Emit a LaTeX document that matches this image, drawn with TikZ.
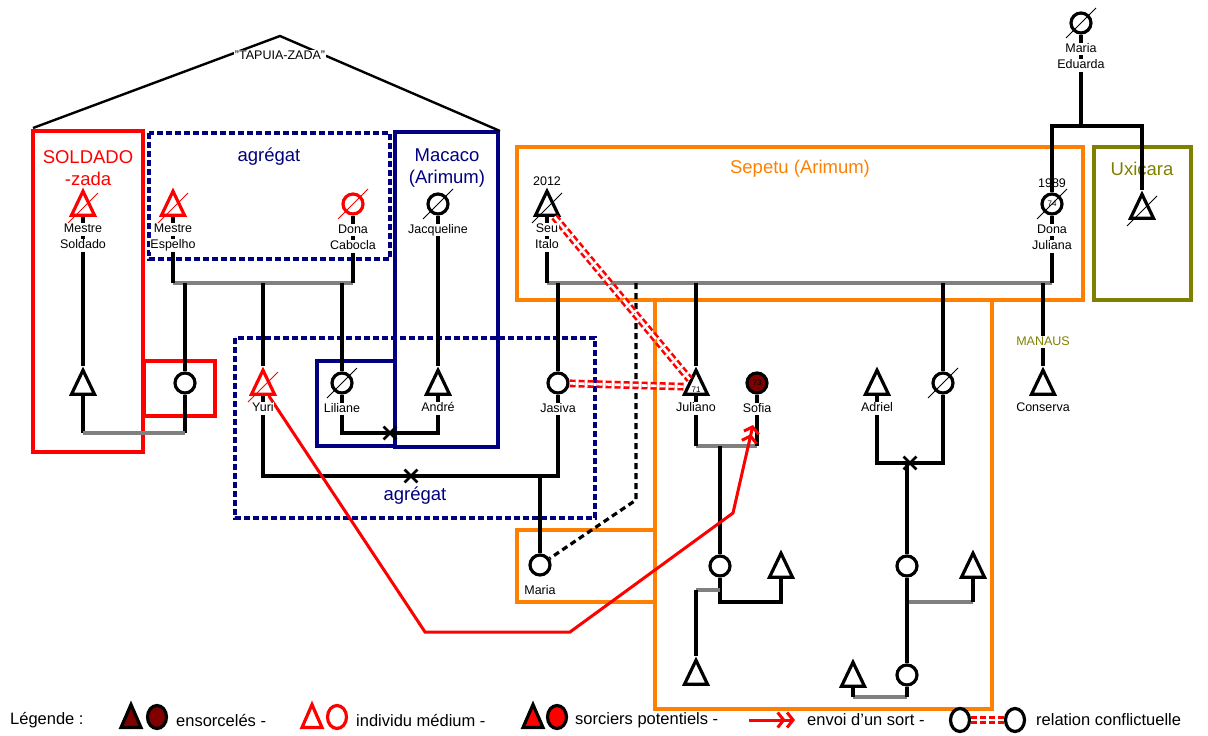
\documentclass[tikz,border=0pt]{standalone}
\usepackage{fontspec}
\setmainfont{Liberation Sans}
\usetikzlibrary{arrows.meta,positioning,shapes.geometric,shapes.misc}
\definecolor{SortRed}{HTML}{FF0000}
\definecolor{AgNavy}{HTML}{000080}
\definecolor{SepOrange}{HTML}{FF8000}
\definecolor{UxOlive}{HTML}{808000}
\definecolor{LinkGray}{HTML}{808080}
\definecolor{Ensorc}{HTML}{800000}
\tikzset{
  male/.style={isosceles triangle, isosceles triangle stretches, shape border rotate=90,
               minimum width=23pt, minimum height=24pt, inner sep=0pt, draw,
               line width=3.2pt, fill=white, yshift=-4pt},
  female/.style={circle, minimum size=20pt, inner sep=0pt, draw, line width=3.2pt, fill=white},
  legcirc/.style={ellipse, minimum width=19pt, minimum height=23pt, inner sep=0pt, draw,
                  line width=3.2pt, fill=white},
  medium/.style={draw=SortRed},
  slash/.style={line width=1pt},
  kin/.style={line width=3.2pt},
  union/.style={kin, draw=LinkGray},
  clan/.style={line width=4.5pt},
  sub/.style={line width=3.5pt},
  agreg/.style={line width=3.4pt, draw=AgNavy, dash pattern=on 6pt off 3pt},
  conflict/.style={draw=SortRed, line width=2.6pt, double=white, double distance=2.6pt,
                   dash pattern=on 6pt off 3pt},
  sort/.style={draw=SortRed, line width=3pt,
               -{Straight Barb[length=6pt,width=15pt]Straight Barb[length=6pt,width=15pt]}},
  cross/.style={cross out, draw, line width=2.8pt, minimum size=10pt, inner sep=0pt},
  lbl/.style={fill=white, inner sep=0.5pt, text height=9pt, text depth=2.5pt,
              font=\fontsize{12.5}{14}\selectfont},
  num/.style={inner sep=0pt, font=\fontsize{8}{9}\selectfont},
  title/.style={align=center, font=\fontsize{18.5}{22}\selectfont},
  legtxt/.style={anchor=west, inner sep=0pt, font=\fontsize{16.5}{18}\selectfont}
}

\begin{document}
\begin{tikzpicture}[x=1pt, y=-1pt]
  \useasboundingbox (0,0) rectangle (1208,736);

  % groups
  \draw[clan, draw=SortRed] (33,131) rectangle (143,452);
  \draw[agreg] (149,133) rectangle (390,259);
  \draw[clan, draw=AgNavy] (395,132) rectangle (498,447);
  \draw[sub, draw=SortRed] (144,361) rectangle (215,416);
  \draw[sub, draw=AgNavy] (317,361) rectangle (395,446);
  \draw[agreg] (235,338) rectangle (595,518);
  \draw[clan, draw=SepOrange] (517,147) rectangle (1083,300);
  \draw[sub, draw=SepOrange] (655,300) -- (655,709) -- (992,709) -- (992,300);
  \draw[sub, draw=SepOrange] (517,530) rectangle (655,602);
  \draw[clan, draw=UxOlive] (1094,147) rectangle (1191,300);

  \draw[line width=2.4pt] (33,128) -- (280,36) -- (500,131);
  \node[fill=white, inner sep=1pt, font=\fontsize{12.5}{14}\selectfont] (tapuia) at (280,55) {"TAPUIA-ZADA"};

  \node[title, text=SortRed] at (88,168) {SOLDADO\\-zada};
  \node[title, text=AgNavy] at (269,157) {agrégat};
  \node[title, text=AgNavy] at (447,168) {Macaco\\(Arimum)};
  \node[title, text=AgNavy] at (415,496) {agrégat};
  \node[title, text=SepOrange] at (800,169) {Sepetu (Arimum)};
  \node[title, text=UxOlive] at (1142,169) {Uxicara};

  % people
  \node[male, medium] (ms) at (83,204) {};
  \node[male, medium] (mse) at (173,204) {};
  \node[female, medium] (dc) at (353,204) {};
  \node[female] (jac) at (438,204) {};
  \node[male] (msson) at (83,383) {};
  \node[female] (msdau) at (185,383) {};
  \node[male, medium] (yuri) at (263,383) {};
  \node[female] (lil) at (342,383) {};
  \node[male] (and) at (438,383) {};
  \node[female] (jas) at (558,383) {};
  \node[female] (mar) at (540,565) {};
  \node[male] (ital) at (547,204) {};
  \node[female, font=\fontsize{8}{9}\selectfont] (djul) at (1052,204) {74};
  \node[male] (uxi) at (1142,207) {};
  \node[female] (med) at (1081,23) {};
  \node[male] (jul) at (696,383) {};
  \node[female, fill=Ensorc, font=\fontsize{8}{9}\selectfont] (sof) at (757,383) {73};
  \node[male] (adr) at (877,383) {};
  \node[female] (adrw) at (943,383) {};
  \node[male] (cons) at (1043,383) {};
  \node[female] (c1) at (720,566) {};
  \node[male] (t1) at (781,566) {};
  \node[male] (t2) at (696,673) {};
  \node[female] (c2) at (907,566) {};
  \node[male] (t3) at (973,566) {};
  \node[female] (c3) at (907,675) {};
  \node[male] (t4) at (853,675) {};
  \node[num] at ([yshift=6pt]jul.south) {71};

  % links
  \coordinate (sol) at (83,433);
  \coordinate (sor) at (185,433);
  \coordinate (tl) at (173,283);
  \coordinate (tr) at (353,283);
  \coordinate (la) at (390,433);
  \coordinate (yj) at (411,476);
  \coordinate (sl) at (547,283);
  \coordinate (sr) at (1052,283);
  \coordinate (dsh) at (636,283);
  \coordinate (me) at (1097,126);
  \coordinate (js) at (720,446);
  \coordinate (ct) at (750,602);
  \coordinate (g1) at (708,590);
  \coordinate (ax) at (910,463);
  \coordinate (g2) at (940,602);
  \coordinate (g3) at (880,697);
  \coordinate (sortend) at (753,425);

  \draw[kin] (ms) -- (msson);
  \draw[kin] (msson) -- (sol);
  \draw[kin] (msdau) -- (sor);
  \draw[union] (sol) -- (sor);
  \draw[union] (tl) -- (tr);
  \draw[kin] (mse) -- (tl);
  \draw[kin] (dc) -- (tr);
  \draw[kin] (msdau) -- (msdau |- tl);
  \draw[kin] (yuri) -- (yuri |- tl);
  \draw[kin] (lil) -- (lil |- tl);
  \draw[kin] (jac) -- (and);
  \draw[kin] (lil) -- (lil |- la) -- (and |- la) -- (and);
  \draw[kin] (yuri) -- (yuri |- yj) -- (jas |- yj) -- (jas);
  \draw[kin] (mar |- yj) -- (mar);

  \draw[union] (sl) -- (sr);
  \draw[kin] (ital) -- (sl);
  \draw[kin] (djul) -- (sr);
  \draw[kin] (jas) -- (jas |- sl);
  \draw[kin] (jul) -- (jul |- sl);
  \draw[kin] (adrw) -- (adrw |- sl);
  \draw[kin] (cons) -- (cons |- sl);
  \draw[kin, dash pattern=on 6pt off 4pt] (dsh) -- (636,500) -- (mar);
  \draw[kin] (med) -- (med |- me);
  \draw[kin] (djul) -- (djul |- me) -- (uxi |- me) -- (uxi);

  \draw[union] (jul |- js) -- (sof |- js);
  \draw[kin] (jul) -- (jul |- js);
  \draw[kin] (sof) -- (sof |- js);
  \draw[kin] (js) -- (c1);
  \draw[kin] (c1) -- (c1 |- ct) -- (t1 |- ct) -- (t1);
  \draw[union] (t2 |- g1) -- (c1 |- g1);
  \draw[kin] (t2 |- g1) -- (t2);

  \draw[kin] (adr) -- (adr |- ax) -- (adrw |- ax) -- (adrw);
  \draw[kin] (c2 |- ax) -- (c2);
  \draw[union] (c2 |- g2) -- (t3 |- g2);
  \draw[kin] (t3) -- (t3 |- g2);
  \draw[kin] (c2) -- (c3);
  \draw[union] (t4 |- g3) -- (c3 |- g3);
  \draw[kin] (t4) -- (t4 |- g3);
  \draw[kin] (c3) -- (c3 |- g3);

  \node[cross] at (la) {};
  \node[cross] at (yj) {};
  \node[cross] at (ax) {};

  \draw[conflict] (ital) -- (jul);
  \draw[conflict] (jas) -- (jul);
  \draw[sort] (yuri) -- (425,632) -- (570,632) -- (733,513) -- (sortend);

  % deceased
  \draw[slash, SortRed] (ms) ++(-15,15) -- ++(30,-30);
  \draw[slash, SortRed] (mse) ++(-15,15) -- ++(30,-30);
  \draw[slash, SortRed] (dc) ++(-15,15) -- ++(30,-30);
  \draw[slash, SortRed] (yuri) ++(-15,15) -- ++(30,-30);
  \draw[slash] (jac) ++(-15,15) -- ++(30,-30);
  \draw[slash] (lil) ++(-15,15) -- ++(30,-30);
  \draw[slash] (ital) ++(-15,15) -- ++(30,-30);
  \draw[slash] (djul) ++(-15,15) -- ++(30,-30);
  \draw[slash] (uxi) ++(-15,15) -- ++(30,-30);
  \draw[slash] (med) ++(-15,15) -- ++(30,-30);
  \draw[slash] (adrw) ++(-15,15) -- ++(30,-30);

  % names
  \node[lbl, below=6pt of ms] (ms1) {Mestre};
  \node[lbl, below=3.5pt of ms1] {Soldado};
  \node[lbl, below=6pt of mse] (mse1) {Mestre};
  \node[lbl, below=3.5pt of mse1] {Espelho};
  \node[lbl, below=8pt of dc] (dc1) {Dona};
  \node[lbl, below=3.5pt of dc1] {Cabocla};
  \node[lbl, below=8pt of jac] {Jacqueline};
  \node[lbl, below=6pt of yuri] {Yuri};
  \node[lbl, below=8pt of lil] {Liliane};
  \node[lbl, below=6pt of and] {André};
  \node[lbl, below=8pt of jas] {Jasiva};
  \node[lbl, below=8pt of mar] {Maria};
  \node[lbl, fill=none, above=-2pt of ital] {2012};
  \node[lbl, below=6pt of ital] (ital1) {Seu};
  \node[lbl, below=3.5pt of ital1] {Italo};
  \node[lbl, fill=none, above=2pt of djul] {1989};
  \node[lbl, below=8pt of djul] (djul1) {Dona};
  \node[lbl, below=3.5pt of djul1] {Juliana};
  \node[lbl, below=8pt of med] (med1) {Maria};
  \node[lbl, below=3.5pt of med1] {Eduarda};
  \node[lbl, below=6pt of jul] {Juliano};
  \node[lbl, below=8pt of sof] {Sofia};
  \node[lbl, below=6pt of adr] {Adriel};
  \node[lbl, below=6pt of cons] {Conserva};
  \node[lbl, text=UxOlive] at (1043,342) {MANAUS};

  % legend
  \node[legtxt] (leg) at (10,720) {Légende :};
  \node[male, fill=Ensorc, minimum width=20pt, minimum height=23pt] (l1t) at (131,717) {};
  \node[legcirc, fill=Ensorc] (l1c) at (157,717) {};
  \node[legtxt] at (176,720) {ensorcelés -};
  \node[male, medium, minimum width=20pt, minimum height=23pt] (l2t) at (312,717) {};
  \node[legcirc, medium] (l2c) at (337,717) {};
  \node[legtxt] at (356,720) {individu médium -};
  \node[male, fill=SortRed, minimum width=20pt, minimum height=23pt] (l3t) at (533,717) {};
  \node[legcirc, fill=SortRed] (l3c) at (557,717) {};
  \node[legtxt] at (575,720) {sorciers potentiels -};
  \coordinate (ls1) at (749,720);
  \coordinate (ls2) at (795,720);
  \draw[sort] (ls1) -- (ls2);
  \node[legtxt] at (807,720) {envoi d'un sort -};
  \node[legcirc] (lc1) at (960,720) {};
  \node[legcirc] (lc2) at (1015,720) {};
  \draw[conflict] (lc1) -- (lc2);
  \node[legtxt] at (1036,720) {relation conflictuelle};
\end{tikzpicture}
\end{document}
